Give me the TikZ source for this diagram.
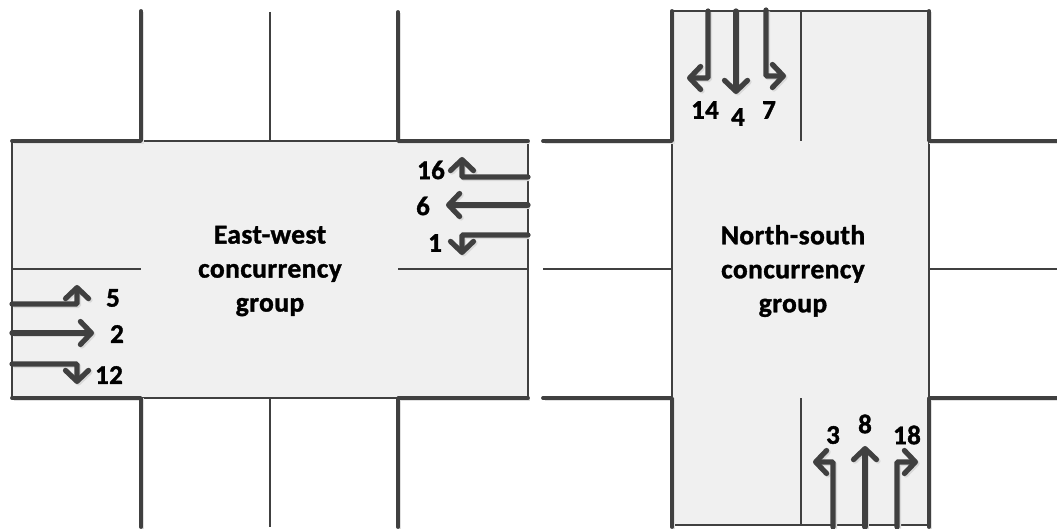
\documentclass[tikz,border=0pt]{standalone}
\usepackage{fontspec}
\setmainfont[BoldFeatures={FakeBold=1.3,LetterSpace=1.5}]{Carlito}
\usetikzlibrary{arrows.meta}
\definecolor{ink}{HTML}{404040}
\definecolor{pave}{HTML}{F0F0F0}
\tikzset{
  thickwall/.style={draw=ink,line width=3.8pt,line join=round,line cap=round,
    preaction={draw=black!12,line width=3.8pt,transform canvas={shift={(1.5pt,-1.5pt)}}}},
  thinline/.style={draw=ink,line width=1.3pt},
  flow/.style={draw=ink,line width=5.2pt,rounded corners=1pt,line cap=round,
    -{Straight Barb[length=11pt,width=23pt,line width=5.2pt,round]},
    preaction={draw=black!15,line width=5.2pt,transform canvas={shift={(1.5pt,-1.5pt)}}}},
  lab/.style={font=\bfseries\fontsize{27pt}{27pt}\selectfont,text=black,inner sep=0pt,align=center},
  title/.style={font=\bfseries\fontsize{27.5pt}{34pt}\selectfont,text=black,inner sep=0pt,align=center}
}
\begin{document}
\begin{tikzpicture}[x=1pt,y=-1pt]
\useasboundingbox (0,0) rectangle (1057,529);
% left intersection
\fill[pave] (12,141) rectangle (528,398);
\draw[thinline] (12,141) rectangle (528,398);
\draw[thinline] (270,12) -- (270,141);
\draw[thinline] (270,398) -- (270,527);
\draw[thinline] (12,269) -- (141,269);
\draw[thinline] (398,269) -- (528,269);
\draw[thickwall] (141,11) -- (141,141) -- (12,141);
\draw[thickwall] (398,12) -- (398,141) -- (528,141);
\draw[thickwall] (12,398) -- (141,398) -- (141,527);
\draw[thickwall] (398,527) -- (398,398) -- (528,398);
% right intersection
\fill[pave] (672,11) rectangle (929,525);
\draw[thinline] (672,11) rectangle (929,525);
\draw[thinline] (801,11) -- (801,141);
\draw[thinline] (801,398) -- (801,525);
\draw[thinline] (543,269) -- (672,269);
\draw[thinline] (929,269) -- (1057,269);
\draw[thickwall] (543,141) -- (672,141) -- (672,11);
\draw[thickwall] (929,11) -- (929,141) -- (1057,141);
\draw[thickwall] (543,398) -- (672,398) -- (672,527);
\draw[thickwall] (929,527) -- (929,398) -- (1057,398);
% flows east-west
\draw[flow] (528,177) -- (462,177) -- (462,157);
\draw[flow] (528,205) -- (446,205);
\draw[flow] (528,235) -- (462,235) -- (462,255);
\draw[flow] (12,304) -- (77,304) -- (77,285);
\draw[flow] (12,333) -- (94,333);
\draw[flow] (12,364) -- (77,364) -- (77,384);
% flows north-south
\draw[flow] (708,11) -- (708,78) -- (687,78);
\draw[flow] (736,11) -- (736,94);
\draw[flow] (766,10) -- (766,76) -- (786,76);
\draw[flow] (833,527) -- (833,462) -- (813,462);
\draw[flow] (865,527) -- (865,446);
\draw[flow] (897,527) -- (897,462) -- (918,462);
% labels
\node[lab] (n16) at (431,170) {16};
\node[lab] (n6) at (423,206) {6};
\node[lab] (n1) at (435,243) {1};
\node[lab] (n5) at (113,298) {5};
\node[lab] (n2) at (117,334) {2};
\node[lab] (n12) at (109,375) {12};
\node[lab] (n14) at (705,110) {14};
\node[lab] (n4) at (738,117) {4};
\node[lab] (n7) at (769,110) {7};
\node[lab] (n3) at (833,435) {3};
\node[lab] (n8) at (865,424) {8};
\node[lab] (n18) at (907,435) {18};
\node[title] (ew) at (270,271) {East-west\\concurrency\\group};
\node[title] (ns) at (793,271) {North-south\\concurrency\\group};
\end{tikzpicture}
\end{document}
